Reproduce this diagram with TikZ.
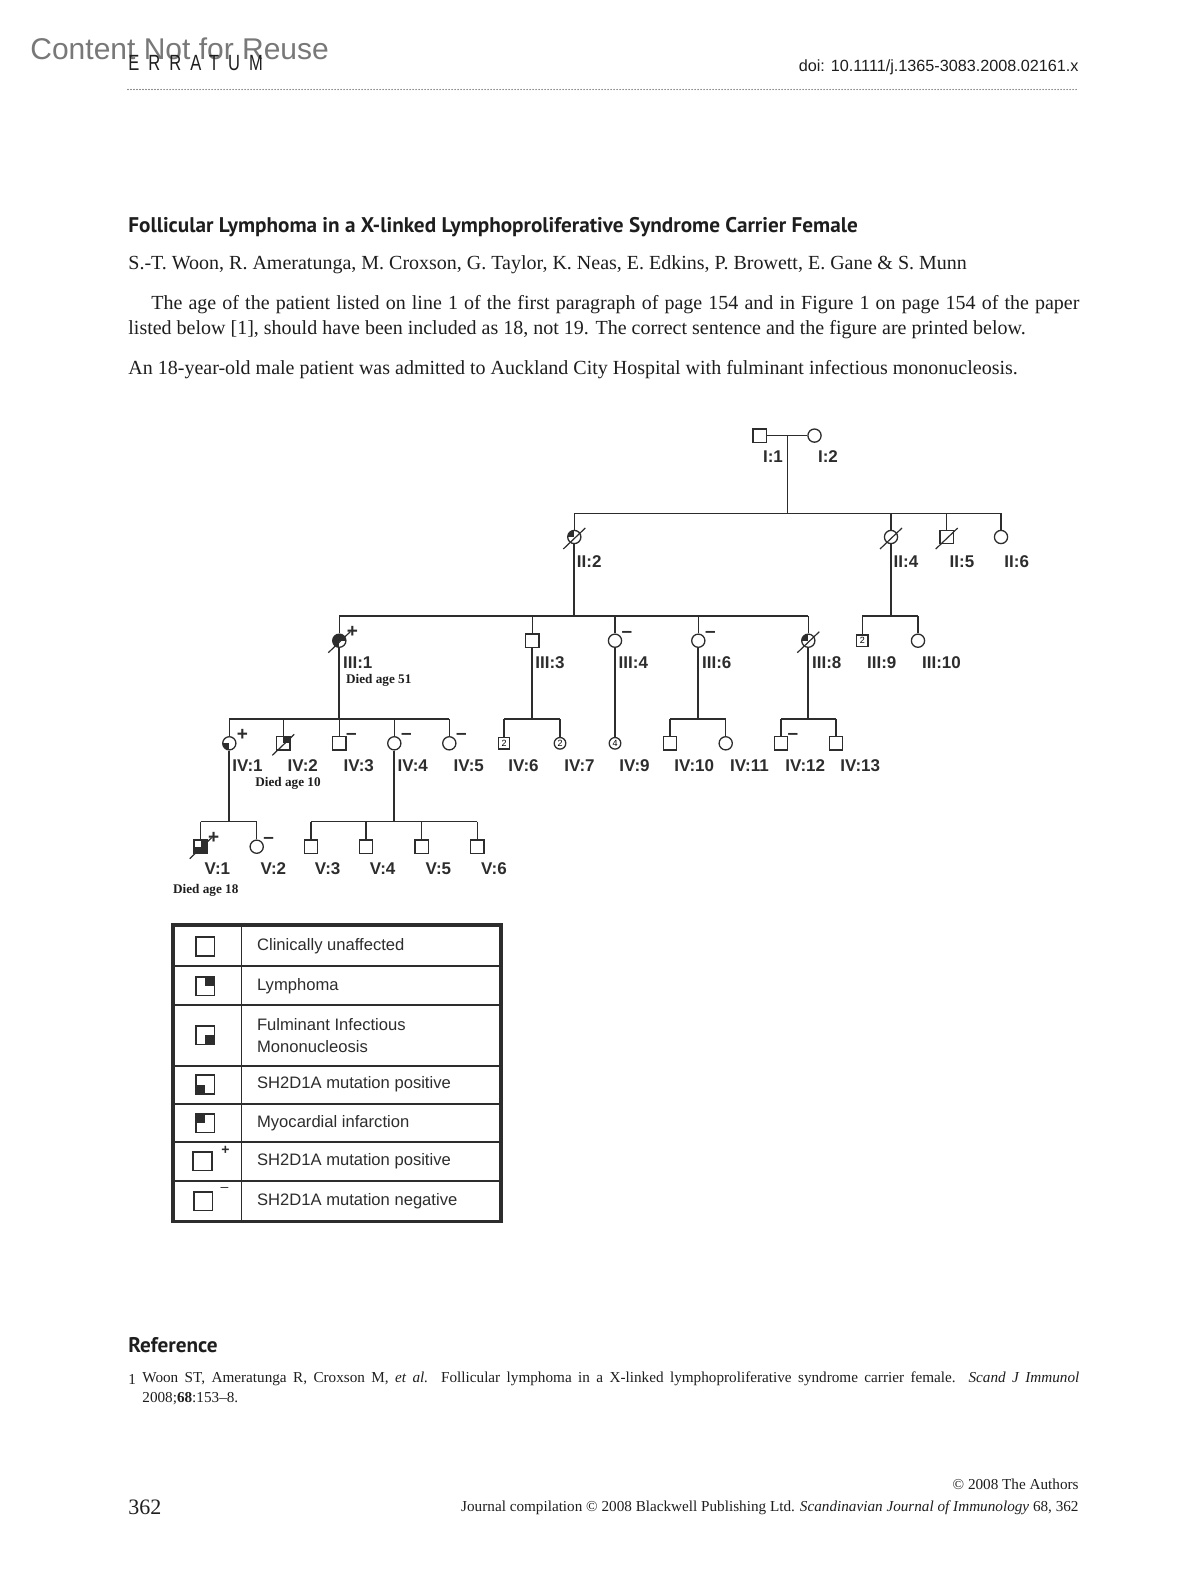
\documentclass[tikz,border=0pt]{standalone}
\usepackage{fontspec}
\setmainfont{Liberation Serif}
\newfontfamily\helv{Liberation Sans}
\newfontfamily\headfont{PT Sans}
\newfontfamily\errfont[FakeStretch=0.75,LetterSpace=41]{Liberation Sans}
\usepackage{tikz}
\usetikzlibrary{positioning}
\definecolor{inkblack}{RGB}{30,30,30}
\definecolor{stampgray}{RGB}{120,120,120}
\definecolor{pedgray}{RGB}{45,45,45}
\tikzset{
  male/.style={rectangle, draw=pedgray, line width=0.65pt,
               minimum size=6.6pt, inner sep=0pt},
  female/.style={circle, draw=pedgray, line width=0.65pt,
                 minimum size=6.6pt, inner sep=0pt},
  smallmale/.style={male, minimum size=5.8pt, font=\helv\fontsize{4.5}{5}\selectfont},
  smallfemale/.style={female, minimum size=5.8pt, font=\helv\fontsize{4.5}{5}\selectfont},
  idlbl/.style={anchor=west, inner sep=0pt, text=pedgray,
                font=\helv\bfseries\fontsize{8.5}{9}\selectfont},
  diedlbl/.style={anchor=west, inner sep=0pt, text=inkblack,
                  font=\bfseries\fontsize{6.6}{7}\selectfont},
  mk/.style={inner sep=0pt, text=pedgray, font=\helv\bfseries\fontsize{9.5}{10}\selectfont},
  sibline/.style={draw=pedgray, line width=0.6pt},
  descline/.style={draw=pedgray, line width=0.95pt},
  bodytxt/.style={anchor=west, inner sep=0pt, text=inkblack,
                  font=\fontsize{10}{12}\selectfont}
}
\newcommand\deceased[1]{\draw[pedgray, line width=0.6pt] (#1.center) +(-5.5pt,-6pt) -- +(5.5pt,4.5pt);}
\newcommand\quadsq[4]{\fill[pedgray] (#1.center) rectangle ++(#2*#4,#3*#4);}
\newcommand\quadci[3]{\begin{scope}\clip (#1.center) circle (3.3pt);
  \fill[pedgray] (#1.center) rectangle ++(#2*4pt,#3*4pt);\end{scope}}
\newcommand\posmark[1]{\path (#1.center) ++(6.5pt,4.4pt) node[mk] (#1p) {+};}
\newcommand\negmark[1]{\path (#1.center) ++(6pt,3.3pt) node[mk] (#1m) {–};}

\begin{document}
\begin{tikzpicture}[x=0.5pt, y=-0.5pt,
  headtxt/.style={anchor=west, inner sep=0pt, text=inkblack,
                  font=\headfont\bfseries\fontsize{10.6}{13}\selectfont},
  reftxt/.style={anchor=west, inner sep=0pt, text=inkblack,
                 font=\fontsize{7.6}{9}\selectfont},
  foottxt/.style={anchor=east, inner sep=0pt, text=inkblack,
                  font=\fontsize{7.6}{9}\selectfont},
  legsq/.style={rectangle, draw=pedgray, line width=0.9pt,
                minimum size=9.4pt, inner sep=0pt},
  legtxt/.style={anchor=west, inner sep=0pt, text=pedgray, align=left,
                 font=\helv\fontsize{8.3}{10.6}\selectfont},
  rowline/.style={draw=pedgray, line width=0.6pt}
]
  \useasboundingbox (0,0) rectangle (1200,1578);
  \fill[white] (0,0) rectangle (1200,1578);

  % Header
  \node[anchor=west, inner sep=0pt, text=stampgray,
        font=\helv\fontsize{15}{16}\selectfont] (stamp) at (30,48.5) {Content Not for Reuse};
  \node[anchor=west, inner sep=0pt, text=inkblack,
        font=\errfont\fontsize{11}{12}\selectfont] (errat) at (128,63.5) {ERRATUM};
  \node[anchor=east, inner sep=0pt, text=inkblack,
        font=\helv\fontsize{8.1}{9}\selectfont] (doi) at (1079,67.5) {doi: 10.1111/j.1365-3083.2008.02161.x};
  \draw[inkblack, line width=0.6pt, line cap=round, dash pattern=on 0pt off 1.5pt] (128,89.6) -- (1079,89.6);

  % Title and text
  \node[headtxt] (title) at (128,227.5) {Follicular Lymphoma in a X-linked Lymphoproliferative Syndrome Carrier Female};
  \node[bodytxt] (authors) at (128,265) {S.-T. Woon, R. Ameratunga, M. Croxson, G. Taylor, K. Neas, E. Edkins, P. Browett, E. Gane \& S. Munn};
  \node[bodytxt] (para1) at (151,305) {\makebox[464pt][s]{The age of the patient listed on line 1 of the first paragraph of page 154 and in Figure 1 on page 154 of the paper}};
  \node[bodytxt] (para2) at (128,329.2) {listed below [1], should have been included as 18, not 19. The correct sentence and the figure are printed below.};
  \node[bodytxt] (para3) at (128,369.5) {An 18-year-old male patient was admitted to Auckland City Hospital with fulminant infectious mononucleosis.};

  % Generation I
  \node[male]   (i1) at (759.7,435.6) {};
  \node[female] (i2) at (814.5,435.6) {};
  \node[idlbl] (li1) at (762.7,457) {I:1};
  \node[idlbl] (li2) at (817.7,457) {I:2};
  \coordinate (m1) at (787.3,435.6);
  \coordinate (s2) at (787.3,513.3);
  \draw[sibline] (i1) -- (i2);
  \draw[sibline] (m1) -- (s2);

  % Generation II
  \node[female] (ii2) at (574.3,537) {};
  \node[female] (ii4) at (891,537) {};
  \node[male]   (ii5) at (946.7,537) {};
  \node[female] (ii6) at (1001,537) {};
  \quadci{ii2}{-1}{1}
  \deceased{ii2} \deceased{ii4} \deceased{ii5}
  \node[idlbl] (lii2) at (576.5,561.7) {II:2};
  \node[idlbl] (lii4) at (893.3,561.7) {II:4};
  \node[idlbl] (lii5) at (949.3,561.7) {II:5};
  \node[idlbl] (lii6) at (1004,561.7) {II:6};
  \draw[sibline] (ii2 |- s2) -- (ii6 |- s2);
  \foreach \k in {ii2,ii4,ii5,ii6} \draw[sibline] (\k |- s2) -- (\k.north);

  % Generation III
  \coordinate (s3) at (574.3,616);
  \node[female] (iii1) at (339.3,640.7) {};
  \node[male]   (iii3) at (532.3,640.7) {};
  \node[female] (iii4) at (615,640.7) {};
  \node[female] (iii6) at (698.3,640.7) {};
  \node[female] (iii8) at (808.3,640.7) {};
  \node[smallmale]   (iii9)  at (862.3,640.7) {2};
  \node[female]      (iii10) at (918,640.7) {};
  \quadci{iii1}{-1}{1} \quadci{iii1}{1}{1} \quadci{iii1}{-1}{-1}
  \quadci{iii8}{-1}{1}
  \deceased{iii1} \deceased{iii8}
  \posmark{iii1} \negmark{iii4} \negmark{iii6}
  \node[idlbl] (liii1)  at (342.7,662.7) {III:1};
  \node[idlbl] (liii3)  at (535,662.7) {III:3};
  \node[idlbl] (liii4)  at (618.3,662.7) {III:4};
  \node[idlbl] (liii6)  at (701.7,662.7) {III:6};
  \node[idlbl] (liii8)  at (811.7,662.7) {III:8};
  \node[idlbl] (liii9)  at (866.7,662.7) {III:9};
  \node[idlbl] (liii10) at (921.7,662.7) {III:10};
  \node[diedlbl] (died51) at (345.7,680.7) {Died age 51};
  \draw[descline] (ii2.south) -- (ii2 |- s3);
  \draw[sibline] (iii1 |- s3) -- (iii8 |- s3);
  \foreach \k in {iii1,iii3,iii4,iii6,iii8} \draw[sibline] (\k |- s3) -- (\k.north);
  \draw[descline] (ii4.south) -- (ii4 |- s3);
  \draw[sibline] (iii9 |- s3) -- (iii10 |- s3);
  \foreach \k in {iii9,iii10} \draw[sibline] (\k |- s3) -- (\k.north);

  % Generation IV
  \coordinate (s4) at (0,719);
  \node[female] (iv1)  at (229.3,743.3) {};
  \node[male]   (iv2)  at (283.3,743.3) {};
  \node[male]   (iv3)  at (339.3,743.3) {};
  \node[female] (iv4)  at (394.3,743.3) {};
  \node[female] (iv5)  at (449.3,743.3) {};
  \node[smallmale]   (iv6) at (504,743.3) {2};
  \node[smallfemale] (iv7) at (560,743.3) {2};
  \node[smallfemale] (iv9) at (615,743.3) {4};
  \node[male]   (iv10) at (670,743.3) {};
  \node[female] (iv11) at (725.7,743.3) {};
  \node[male]   (iv12) at (781,743.3) {};
  \node[male]   (iv13) at (836,743.3) {};
  \quadci{iv1}{-1}{-1}
  \quadsq{iv2}{1}{1}{3.3pt}
  \deceased{iv2}
  \posmark{iv1} \negmark{iv3} \negmark{iv4} \negmark{iv5} \negmark{iv12}
  \node[idlbl] (liv1)  at (232,765.7) {IV:1};
  \node[idlbl] (liv2)  at (287.3,765.7) {IV:2};
  \node[idlbl] (liv3)  at (343.3,765.7) {IV:3};
  \node[idlbl] (liv4)  at (397.3,765.7) {IV:4};
  \node[idlbl] (liv5)  at (453.3,765.7) {IV:5};
  \node[idlbl] (liv6)  at (508,765.7) {IV:6};
  \node[idlbl] (liv7)  at (564,765.7) {IV:7};
  \node[idlbl] (liv9)  at (619,765.7) {IV:9};
  \node[idlbl] (liv10) at (674,765.7) {IV:10};
  \node[idlbl] (liv11) at (729.7,765.7) {IV:11};
  \node[idlbl] (liv12) at (785,765.7) {IV:12};
  \node[idlbl] (liv13) at (840,765.7) {IV:13};
  \node[diedlbl] (died10) at (255,783.3) {Died age 10};
  \draw[descline] (iii1.south) -- (iii1 |- s4);
  \draw[sibline] (iv1 |- s4) -- (iv5 |- s4);
  \foreach \k in {iv1,iv2,iv3,iv4,iv5} \draw[sibline] (\k |- s4) -- (\k.north);
  \draw[descline] (iii3.south) -- (iii3 |- s4);
  \draw[sibline] (iv6 |- s4) -- (iv7 |- s4);
  \foreach \k in {iv6,iv7} \draw[sibline] (\k |- s4) -- (\k.north);
  \draw[descline] (iii4.south) -- (iv9.north);
  \draw[descline] (iii6.south) -- (iii6 |- s4);
  \draw[sibline] (iv10 |- s4) -- (iv11 |- s4);
  \foreach \k in {iv10,iv11} \draw[sibline] (\k |- s4) -- (\k.north);
  \draw[descline] (iii8.south) -- (iii8 |- s4);
  \draw[sibline] (iv12 |- s4) -- (iv13 |- s4);
  \foreach \k in {iv12,iv13} \draw[sibline] (\k |- s4) -- (\k.north);

  % Generation V
  \coordinate (s5) at (0,821.7);
  \node[male]   (v1) at (200.7,846.7) {};
  \node[female] (v2) at (256.7,846.7) {};
  \node[male]   (v3) at (311,846.7) {};
  \node[male]   (v4) at (366,846.7) {};
  \node[male]   (v5) at (421.7,846.7) {};
  \node[male]   (v6) at (477.3,846.7) {};
  \quadsq{v1}{1}{1}{3.3pt} \quadsq{v1}{1}{-1}{3.3pt} \quadsq{v1}{-1}{-1}{3.3pt}
  \deceased{v1}
  \posmark{v1} \negmark{v2}
  \node[idlbl] (lv1) at (204.2,868.3) {V:1};
  \node[idlbl] (lv2) at (260.2,868.3) {V:2};
  \node[idlbl] (lv3) at (314.5,868.3) {V:3};
  \node[idlbl] (lv4) at (369.5,868.3) {V:4};
  \node[idlbl] (lv5) at (425.2,868.3) {V:5};
  \node[idlbl] (lv6) at (480.8,868.3) {V:6};
  \node[diedlbl] (died18) at (172.7,890) {Died age 18};
  \draw[descline] (iv1.south) -- (iv1 |- s5);
  \draw[sibline] (v1 |- s5) -- (v2 |- s5);
  \foreach \k in {v1,v2} \draw[sibline] (\k |- s5) -- (\k.north);
  \draw[descline] (iv4.south) -- (iv4 |- s5);
  \draw[sibline] (v3 |- s5) -- (v6 |- s5);
  \foreach \k in {v3,v4,v5,v6} \draw[sibline] (\k |- s5) -- (\k.north);

  % Legend
  \draw[pedgray, line width=1.8pt] (173,925) rectangle (501,1221.5);
  \draw[rowline] (241.6,925) -- (241.6,1221.5);
  \foreach \yy in {966,1005,1066,1104,1142,1181} \draw[rowline] (173,\yy) -- (501,\yy);
  \node[legsq] (k1) at (205,946.5) {};
  \node[legsq] (k2) at (205,986) {};
  \node[legsq] (k3) at (205,1035) {};
  \node[legsq] (k4) at (205,1084.5) {};
  \node[legsq] (k5) at (205,1123) {};
  \node[legsq] (k6) at (202.5,1161) {};
  \node[legsq] (k7) at (203,1201) {};
  \quadsq{k2}{1}{1}{4.7pt}
  \quadsq{k3}{1}{-1}{4.7pt}
  \quadsq{k4}{-1}{-1}{4.7pt}
  \quadsq{k5}{-1}{1}{4.7pt}
  \path (k6.center) ++(11.5pt,5.2pt) node[inner sep=0pt, text=pedgray,
        font=\helv\bfseries\fontsize{7}{7}\selectfont] (k6p) {+};
  \path (k7.center) ++(10.7pt,5.8pt) node[inner sep=0pt, text=pedgray,
        font=\helv\fontsize{7}{7}\selectfont] (k7m) {–};
  \node[legtxt] (t1) at (256.7,946.5) {Clinically unaffected};
  \node[legtxt] (t2) at (256.7,986) {Lymphoma};
  \node[legtxt] (t3) at (256.7,1035.5) {Fulminant Infectious\\Mononucleosis};
  \node[legtxt] (t4) at (256.7,1084.5) {SH2D1A mutation positive};
  \node[legtxt] (t5) at (256.7,1123) {Myocardial infarction};
  \node[legtxt] (t6) at (256.7,1161) {SH2D1A mutation positive};
  \node[legtxt] (t7) at (256.7,1201) {SH2D1A mutation negative};

  % Reference
  \node[headtxt] (refhd) at (128,1344.8) {Reference};
  \node[reftxt] (refno) at (128,1379) {1};
  \node[reftxt] (ref1) at (142,1379) {\makebox[468.5pt][s]{Woon ST, Ameratunga R, Croxson M, \textit{et al.} Follicular lymphoma in a X-linked lymphoproliferative syndrome carrier female. \textit{Scand J Immunol}}};
  \node[reftxt] (ref2) at (142,1399) {2008;\textbf{68}:153–8.};

  % Footer
  \node[foottxt] (copy) at (1079,1484) {© 2008 The Authors};
  \node[bodytxt, font=\fontsize{11}{12}\selectfont] (pgno) at (128,1507) {362};
  \node[foottxt] (jrnl) at (1079,1508) {Journal compilation © 2008 Blackwell Publishing Ltd. \textit{Scandinavian Journal of Immunology} 68, 362};
\end{tikzpicture}
\end{document}
